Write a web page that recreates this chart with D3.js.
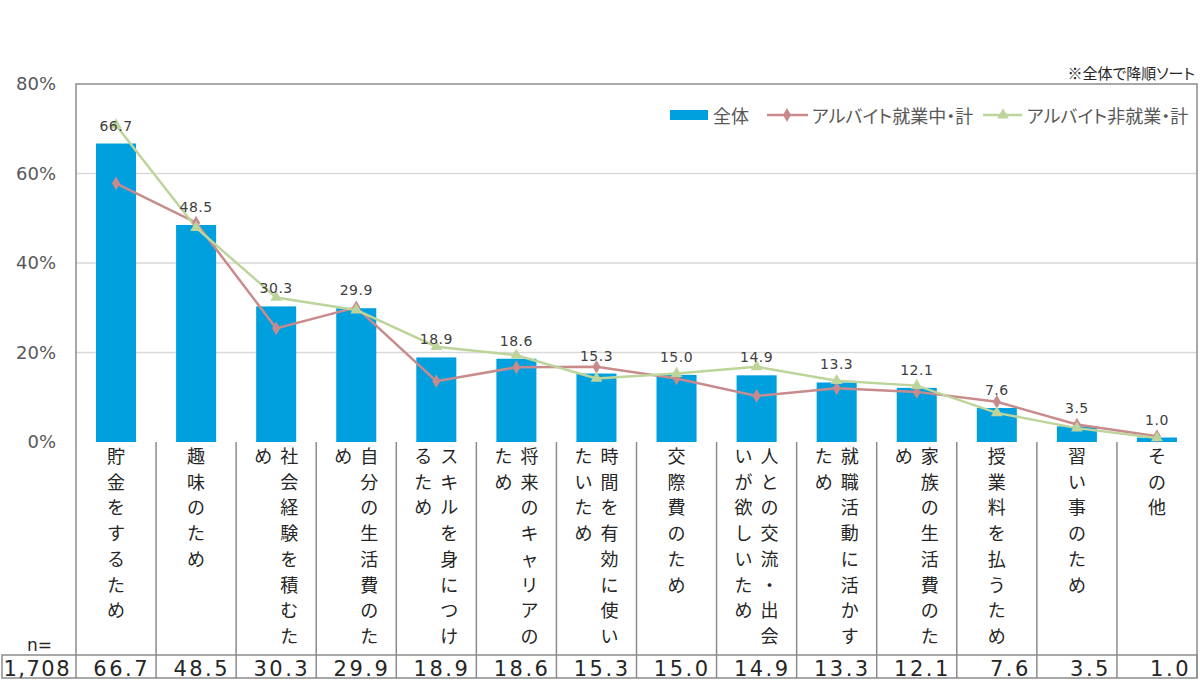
<!DOCTYPE html>
<html><head><meta charset="utf-8">
<script src="https://cdn.jsdelivr.net/npm/d3@7"></script>
<style>
html,body{margin:0;padding:0;background:#fff;}
svg{display:block;}
.jp{font-family:"Noto Sans CJK JP","Noto Sans",sans-serif;}
.num{font-family:"DejaVu Sans",Verdana,sans-serif;}
</style></head>
<body>
<svg id="chart" width="1200" height="688"></svg>
<script>
const categories = ["貯金をするため","趣味のため","社会経験を積むため","自分の生活費のため","スキルを身につけるため","将来のキャリアのため","時間を有効に使いたいため","交際費のため","人との交流・出会いが欲しいため","就職活動に活かすため","家族の生活費のため","授業料を払うため","習い事のため","その他"];
const totalValues = [66.7,48.5,30.3,29.9,18.9,18.6,15.3,15.0,14.9,13.3,12.1,7.6,3.5,1.0];
const workingValues = [57.8,49.0,25.4,30.1,13.6,16.7,16.8,14.2,10.3,12.0,11.2,9.0,3.9,1.3];
const notWorkingValues = [70.8,47.9,32.3,29.5,21.3,19.4,14.2,15.3,16.8,13.7,12.6,6.5,3.1,0.9];
const yTicks = [0,20,40,60,80];
const seriesNames = ["全体","アルバイト就業中・計","アルバイト非就業・計"];
const sampleSize = "1,708";
const nLabel = "n=";
const note = "※全体で降順ソート";

const svg = d3.select("#chart");
const L = 76, R = 1197, T = 84, B = 442;
const tableBottom = 655, rowBottom = 678;
const colors = {bar:"#00A0DF", work:"#C98A8C", non:"#BDD49B", grid:"#D9D9D9", border:"#8C8C8C", text:"#595959", dark:"#262626"};

const x = d3.scaleBand().domain(categories).range([L,R]).paddingInner(0.5).paddingOuter(0.25);
const y = d3.scaleLinear().domain([0,80]).range([B,T]);
const step = x.step();
const cellLeft = c => x(c) - step*0.25;
const cx = c => x(c) + x.bandwidth()/2;

// gridlines
svg.append("g").selectAll("line").data(yTicks.filter(t=>t>0 && t<80)).join("line")
  .attr("x1",L).attr("x2",R).attr("y1",d=>y(d)).attr("y2",d=>y(d))
  .attr("stroke",colors.grid).attr("stroke-width",1.5);

// y axis labels
const yAxis = d3.axisLeft(y).tickValues(yTicks).tickFormat(d=>d+"%").tickSize(0).tickPadding(20);
const gy = svg.append("g").attr("transform",`translate(${L},0)`).call(yAxis);
gy.select(".domain").remove();
gy.selectAll("text").attr("class","num").style("font-size","18px").attr("fill",colors.text);

// bars
svg.append("g").selectAll("rect").data(totalValues).join("rect")
  .attr("x",(d,i)=>x(categories[i])).attr("width",x.bandwidth())
  .attr("y",d=>y(d)).attr("height",d=>B-y(d)).attr("fill",colors.bar);

// plot border
svg.append("path").attr("d",`M${L},${B}V${T}H${R}V${B}`).attr("fill","none")
  .attr("stroke",colors.border).attr("stroke-width",1.5);

// lines
const line = d3.line().x((d,i)=>cx(categories[i])).y(d=>y(d));
svg.append("path").datum(workingValues).attr("d",line).attr("fill","none").attr("stroke",colors.work).attr("stroke-width",2.5);
svg.append("path").datum(notWorkingValues).attr("d",line).attr("fill","none").attr("stroke",colors.non).attr("stroke-width",2.5);
const diamond = d3.symbol().type(d3.symbolDiamond).size(55);
const tri = d3.symbol().type(d3.symbolTriangle).size(60);
svg.append("g").selectAll("path").data(workingValues).join("path")
  .attr("d",diamond).attr("transform",(d,i)=>`translate(${cx(categories[i])},${y(d)})`).attr("fill",colors.work);
svg.append("g").selectAll("path").data(notWorkingValues).join("path")
  .attr("d",tri).attr("transform",(d,i)=>`translate(${cx(categories[i])},${y(d)})`).attr("fill",colors.non);

// data labels
svg.append("g").selectAll("text").data(totalValues).join("text")
  .attr("class","num").attr("x",(d,i)=>cx(categories[i])).attr("y",d=>y(d)-13)
  .attr("text-anchor","middle").style("font-size","14px").style("letter-spacing","0.5px")
  .attr("fill","#404040").text(d=>d.toFixed(1));

// table: label area verticals
const tbl = svg.append("g").attr("stroke",colors.border).attr("stroke-width",1.5);
const bounds = categories.map(c=>cellLeft(c)).concat([R]);
tbl.selectAll("line.v").data(bounds).join("line").attr("class","v")
  .attr("x1",d=>d).attr("x2",d=>d).attr("y1",B).attr("y2",rowBottom);
// number row
tbl.append("rect").attr("x",2).attr("y",tableBottom).attr("width",R-2).attr("height",rowBottom-tableBottom).attr("fill","none");

// vertical category labels
const perCol = 8, colGap = 26, charStep = 25.7, firstY = 455;
categories.forEach((c,i)=>{
  const chars = Array.from(c);
  const cols = [];
  for(let k=0;k<chars.length;k+=perCol) cols.push(chars.slice(k,k+perCol));
  const n = cols.length;
  const g = svg.append("g").attr("class","jp").style("font-size","18px").attr("fill",colors.dark);
  cols.forEach((col,j)=>{
    const xx = cx(c) + ((n-1)/2 - j)*colGap;
    g.selectAll(null).data(col).join("text")
      .attr("x",xx).attr("y",(d,k)=>firstY + k*charStep)
      .attr("text-anchor","middle").attr("dominant-baseline","central").text(d=>d);
  });
});

// n= label and number row
svg.append("text").attr("class","num").attr("x",27).attr("y",651).style("font-size","17px").attr("fill",colors.dark).text(nLabel);
svg.append("text").attr("class","num").attr("x",cellLeft(categories[0])-5).attr("y",676)
  .attr("text-anchor","end").style("font-size","21px").style("letter-spacing","1.5px").attr("fill",colors.dark).text(sampleSize);
svg.append("g").selectAll("text").data(totalValues).join("text")
  .attr("class","num").attr("x",(d,i)=>cellLeft(categories[i])+step-6).attr("y",676)
  .attr("text-anchor","end").style("font-size","21px").style("letter-spacing","2.5px")
  .attr("fill",colors.dark).text(d=>d.toFixed(1));

// note
svg.append("text").attr("class","jp").attr("x",1195).attr("y",79).attr("text-anchor","end")
  .style("font-size","15px").style("font-feature-settings","'palt'").attr("fill",colors.dark).text(note);

// legend
const lg = svg.append("g").attr("class","jp").style("font-size","18px").style("font-feature-settings","'palt'");
lg.append("rect").attr("x",670).attr("y",110).attr("width",38).attr("height",10).attr("fill",colors.bar);
lg.append("text").attr("x",713).attr("y",115).attr("dominant-baseline","central").attr("fill",colors.text).text(seriesNames[0]);
lg.append("line").attr("x1",767).attr("x2",808).attr("y1",115).attr("y2",115).attr("stroke",colors.work).attr("stroke-width",2.5);
lg.append("path").attr("d",diamond).attr("transform","translate(787,115)").attr("fill",colors.work);
lg.append("text").attr("x",812).attr("y",115).attr("dominant-baseline","central").attr("fill",colors.text).text(seriesNames[1]);
lg.append("line").attr("x1",983).attr("x2",1022).attr("y1",115).attr("y2",115).attr("stroke",colors.non).attr("stroke-width",2.5);
lg.append("path").attr("d",tri).attr("transform","translate(1003,115)").attr("fill",colors.non);
lg.append("text").attr("x",1027).attr("y",115).attr("dominant-baseline","central").attr("fill",colors.text).text(seriesNames[2]);
</script>
</body></html>
